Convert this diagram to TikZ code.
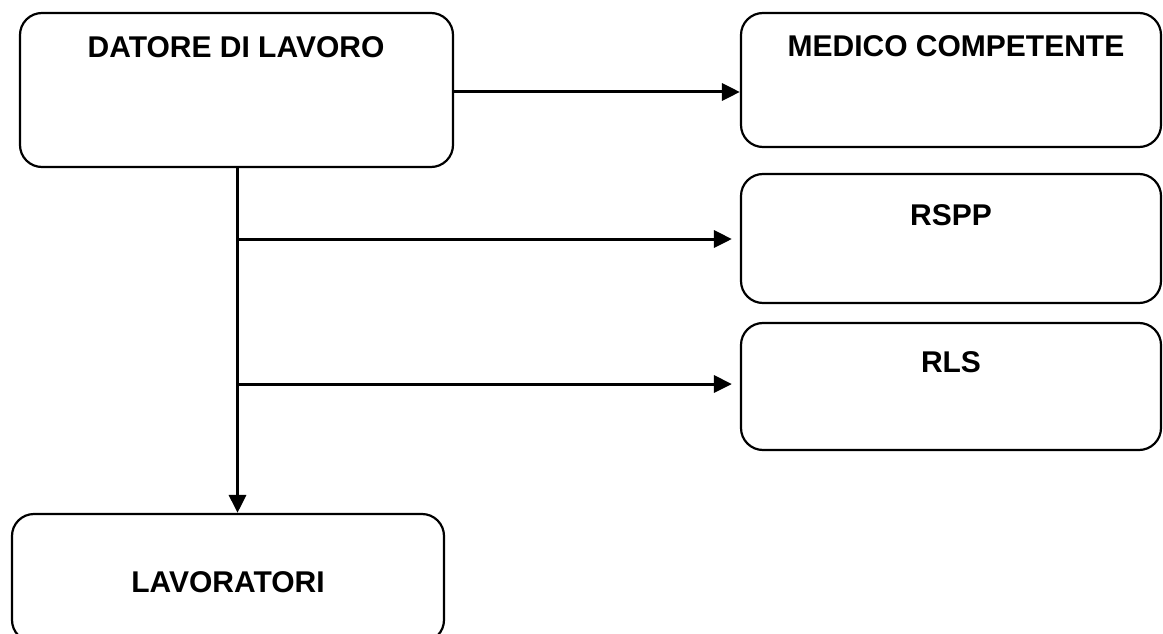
\documentclass[tikz,border=0pt]{standalone}
\usepackage{fontspec}
\setmainfont{Liberation Sans}
\usetikzlibrary{arrows.meta}
\begin{document}
\begin{tikzpicture}[x=1pt,y=-1pt,
  box/.style={draw=black, line width=2.2pt, rounded corners=22pt, inner sep=0pt, fill=white},
  lbl/.style={font=\fontsize{30}{32}\selectfont\bfseries, inner sep=0pt, anchor=base},
  arr/.style={line width=3pt, -{Triangle[length=18pt,width=17pt]}}]
\fill[white] (0,0) rectangle (1163,634);
\clip (0,0) rectangle (1163,634);
\useasboundingbox (0,0) rectangle (1163,634);
\node[box, minimum width=433pt, minimum height=154pt] (datore) at (236.5,90) {};
\node[box, minimum width=420pt, minimum height=134pt] (medico) at (951,80) {};
\node[box, minimum width=420pt, minimum height=129pt] (rspp) at (951,238.5) {};
\node[box, minimum width=420pt, minimum height=127pt] (rls) at (951,386.5) {};
\node[box, minimum width=432pt, minimum height=128pt] (lav) at (228,578) {};
\node[lbl] (tdatore) at (236,58) {DATORE DI LAVORO};
\node[lbl] (tmedico) at (956,57) {MEDICO COMPETENTE};
\node[lbl] (trspp) at (951,225) {RSPP};
\node[lbl] (trls) at (951,372) {RLS};
\node[lbl] (tlav) at (228,592) {LAVORATORI};
\coordinate (b1) at (237.5,239);
\coordinate (b2) at (237.5,384);
\draw[arr] ([yshift=-2pt]datore.east) -- ([yshift=-2pt]datore.east -| medico.west);
\draw[arr] (datore.south -| b1) -- (b1 |- lav.north);
\draw[arr] (b1) -- ([xshift=-8pt]b1 -| rspp.west);
\draw[arr] (b2) -- ([xshift=-8pt]b2 -| rls.west);
\end{tikzpicture}
\end{document}
